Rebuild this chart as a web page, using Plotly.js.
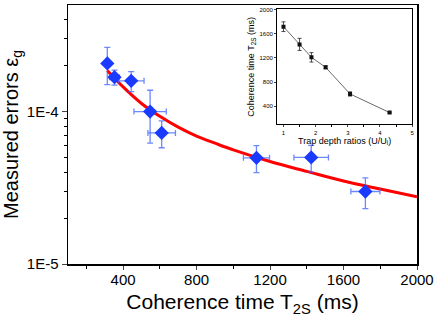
<!DOCTYPE html>
<html>
<head>
<meta charset="utf-8">
<script src="https://cdn.plot.ly/plotly-3.0.1.min.js"></script>
<style>
  html, body { margin: 0; padding: 0; background: #fff; }
  #chart { width: 436px; height: 320px; }
</style>
</head>
<body>
<div id="chart"></div>
<script>
// main panel: measured errors vs coherence time
const coherenceMs = [314, 353, 444, 547, 610, 1126, 1424, 1719];
const coherenceErr = [8, 27, 70, 88, 75, 71, 94, 79];
const measuredErr = [2.07e-4, 1.68e-4, 1.59e-4, 1.0e-4, 7.24e-5, 4.97e-5, 5.0e-5, 2.99e-5];
const measuredErrBar = [5.7e-5, 1.9e-5, 2.4e-5, 3.8e-5, 1.45e-5, 1.0e-5, 1.0e-5, 6.8e-6];

// fitted curve
const fitX = [314, 400, 500, 600, 700, 800, 900, 1000, 1200, 1400, 1600, 1800, 2000];
const fitY = [1.86e-4, 1.45e-4, 1.13e-4, 9.3e-5, 7.9e-5, 6.9e-5, 6.2e-5, 5.6e-5, 4.7e-5, 4.05e-5, 3.5e-5, 3.1e-5, 2.76e-5];

// inset: coherence time vs trap depth ratio
const trapRatio = [1.0, 1.5, 1.87, 2.31, 3.07, 4.30];
const insetT2s = [1714, 1422, 1208, 1043, 603, 295];
const insetT2sErr = [80, 100, 78, 25, 35, 10];

const yTickVals = [1e-5, 1e-4];
const yTickText = ["1E-5", "1E-4"];
const yMinorVals = [2e-5, 3e-5, 4e-5, 5e-5, 6e-5, 7e-5, 8e-5, 9e-5, 2e-4, 3e-4, 4e-4];

const FONT = "Liberation Sans, Arial, sans-serif";
const blue = "#1a3aff";
const errBlue = "rgba(60,95,255,0.75)";

const traces = [
  {
    x: fitX,
    y: fitY,
    type: "scatter",
    mode: "lines",
    line: { color: "#ff0000", width: 3, shape: "spline" },
    hoverinfo: "skip",
  },
  {
    x: coherenceMs,
    y: measuredErr,
    type: "scatter",
    mode: "markers",
    marker: { symbol: "diamond", size: 11, color: blue },
    error_x: { type: "data", array: coherenceErr, color: errBlue, thickness: 1.3, width: 3 },
    error_y: { type: "data", array: measuredErrBar, color: errBlue, thickness: 1.3, width: 3 },
  },
  {
    x: trapRatio,
    y: insetT2s,
    xaxis: "x2",
    yaxis: "y2",
    type: "scatter",
    mode: "lines+markers",
    line: { color: "#444", width: 0.8 },
    marker: { symbol: "square", size: 4, color: "#111" },
    error_y: { type: "data", array: insetT2sErr, color: "#222", thickness: 0.8, width: 2 },
  },
];

const layout = {
  width: 436,
  height: 320,
  margin: { l: 68, r: 19, t: 5, b: 56 },
  paper_bgcolor: "#fff",
  plot_bgcolor: "#fff",
  showlegend: false,
  font: { family: FONT, color: "#000" },
  xaxis: {
    range: [100, 2000],
    tickvals: [400, 800, 1200, 1600, 2000],
    ticks: "outside",
    ticklen: 4,
    tickwidth: 1,
    ticklabelstandoff: -3,
    tickfont: { size: 15 },
    showgrid: false,
    zeroline: false,
    showline: true,
    linecolor: "#000",
    linewidth: 1.5,
    mirror: true,
    minor: { dtick: 200, tick0: 0, ticks: "outside", ticklen: 3, tickcolor: "#000", showgrid: false },
    title: { text: "Coherence time T<sub>2S</sub> (ms)", font: { size: 21 }, standoff: 8 },
  },
  yaxis: {
    type: "log",
    range: [-5, Math.log10(5e-4)],
    tickvals: yTickVals,
    ticktext: yTickText,
    ticks: "outside",
    ticklen: 5,
    tickfont: { size: 15 },
    showgrid: false,
    zeroline: false,
    showline: true,
    linecolor: "#000",
    linewidth: 1.5,
    mirror: true,
    minor: { tickvals: yMinorVals, ticks: "outside", ticklen: 3, tickcolor: "#000", showgrid: false },
    title: { text: "Measured errors ε<sub>g</sub>", font: { size: 20 }, standoff: 4 },
  },
  xaxis2: {
    domain: [0.599, 0.986],
    anchor: "y2",
    range: [0.8, 5],
    dtick: 1,
    ticks: "outside",
    ticklen: 2,
    tickfont: { size: 6 },
    showgrid: false,
    zeroline: false,
    showline: true,
    linecolor: "#000",
    linewidth: 1,
    mirror: true,
    minor: { dtick: 0.5, ticks: "outside", ticklen: 1.5, tickcolor: "#000" },
    title: { text: "Trap depth ratios (U/U<sub>i</sub>)", font: { size: 9 }, standoff: 2 },
  },
  yaxis2: {
    domain: [0.539, 0.983],
    anchor: "x2",
    range: [100, 2000],
    tickvals: [400, 800, 1200, 1600, 2000],
    ticks: "outside",
    ticklen: 2,
    tickfont: { size: 6 },
    showgrid: false,
    zeroline: false,
    showline: true,
    linecolor: "#000",
    linewidth: 1,
    mirror: true,
    title: { text: "Coherence time T<sub>2S</sub> (ms)", font: { size: 9 }, standoff: 3 },
  },
};

Plotly.newPlot("chart", traces, layout, { displayModeBar: false, staticPlot: true });
</script>
</body>
</html>
